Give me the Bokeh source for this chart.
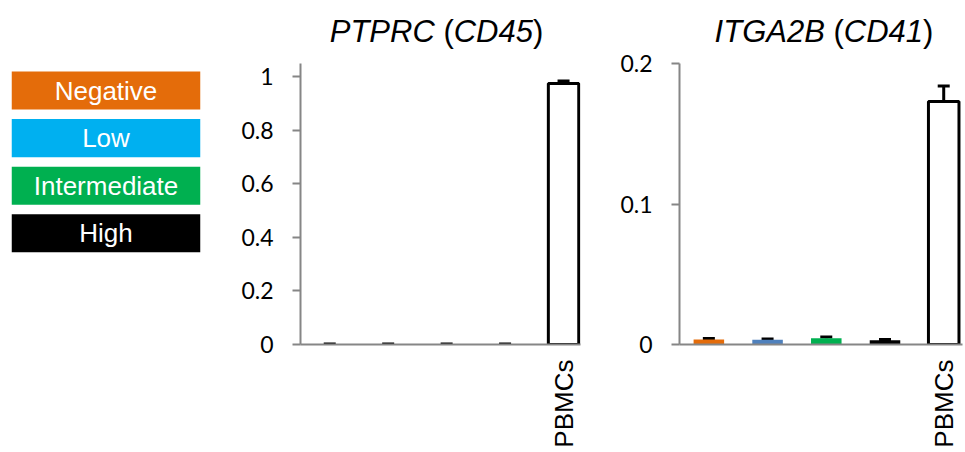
import math
from bokeh.plotting import figure
from bokeh.models import (ColumnDataSource, Range1d, FixedTicker, NumeralTickFormatter,
                          Whisker, TeeHead)
from bokeh.layouts import row
from bokeh.embed import file_html
from bokeh.resources import INLINE
from bokeh.core.properties import value

# ---------------- data ----------------
groups = ["Negative", "Low", "Intermediate", "High", "PBMCs"]
x_tick_labels = ["", "", "", "", "PBMCs"]
legend_labels = ["Negative", "Low", "Intermediate", "High"]
legend_colors = ["#E46C0A", "#00B0F0", "#00B050", "#000000"]
bar_fill = ["#E46C0A", "#4F81BD", "#00B050", "#000000", "#FFFFFF"]
bar_outline_alpha = [0, 0, 0, 0, 1]

ptprc_mean = [0.001, 0.001, 0.001, 0.001, 0.975]
ptprc_err = [0.0005, 0.0005, 0.0005, 0.0005, 0.010]
itga2b_mean = [0.0035, 0.0033, 0.0045, 0.0030, 0.173]
itga2b_err = [0.0007, 0.0006, 0.0008, 0.0006, 0.011]

ptprc_ticks = [0, 0.2, 0.4, 0.6, 0.8, 1.0]
itga2b_ticks = [0, 0.1, 0.2]

ptprc_title = [("PTPRC", "italic"), (" ", "normal"), ("(", "normal"), ("CD45", "italic"), (")", "normal")]
itga2b_title = [("ITGA2B", "italic"), (" ", "normal"), ("(", "normal"), ("CD41", "italic"), (")", "normal")]

# ---------------- styling / layout constants ----------------
ARIAL_W = {"P": .667, "T": .611, "R": .722, "C": .722, "I": .278, "G": .778, "A": .667,
           "B": .667, "D": .722, "4": .556, "5": .556, "1": .556, "2": .556,
           " ": .278, "(": .333, ")": .333}
TITLE_FS = 31
SANS = "Liberation Sans"
TICK_FONT = "Lato"
FIG_H = 450
FRAME_BOTTOM = 344     # px from canvas top
AXIS_TOP = 63          # px from canvas top where the value axis ends
TITLE_BASE = 31        # px from canvas top (title baseline)


def text_w(s, fs):
    return sum(ARIAL_W.get(c, 0.556) for c in s) * fs


def new_fig(width, left, right, x_range, y_range, **kw):
    p = figure(width=width, height=FIG_H, output_backend="svg", toolbar_location=None,
               x_range=x_range, y_range=y_range,
               min_border_left=left, min_border_right=right,
               min_border_top=0, min_border_bottom=FIG_H - FRAME_BOTTOM, **kw)
    p.outline_line_color = None
    p.grid.grid_line_color = None
    return p


def add_title(p, parts, x_center, y_base, dx):
    total = sum(text_w(t, TITLE_FS) for t, _ in parts)
    off = dx - total / 2
    for t, style in parts:
        if t.strip():
            p.text(x=[x_center], y=[y_base], text=[t], x_offset=off,
                   text_font=value(SANS), text_font_size=f"{TITLE_FS}px",
                   text_font_style=style, text_color="black",
                   text_align="left", text_baseline="alphabetic")
        off += text_w(t, TITLE_FS)


def bar_panel(width, border_left, border_right, xmax, axis_max, means, errs, ticks, title, title_dx):
    y_end = axis_max * FRAME_BOTTOM / (FRAME_BOTTOM - AXIS_TOP)
    p = new_fig(width, border_left, border_right, Range1d(-0.5, xmax), Range1d(0, y_end))
    xs = list(range(len(groups)))
    src = ColumnDataSource(dict(x=xs, top=means, upper=[m + e for m, e in zip(means, errs)],
                                fill=bar_fill, la=bar_outline_alpha))
    p.vbar(x="x", top="top", width=0.52, source=src, fill_color="fill",
           line_color="black", line_alpha="la", line_width=3)
    p.add_layout(Whisker(source=src, base="x", upper="upper", lower="top", dimension="height",
                         line_color="black", line_width=3,
                         upper_head=TeeHead(size=12, line_color="black", line_width=3),
                         lower_head=None))
    # y axis
    ya = p.yaxis[0]
    ya.bounds = (0, axis_max)
    ya.ticker = FixedTicker(ticks=ticks)
    ya.formatter = NumeralTickFormatter(format="0.[0]")
    ya.axis_line_color = "#868686"
    ya.axis_line_width = 2
    ya.major_tick_line_color = "#868686"
    ya.major_tick_line_width = 2
    ya.major_tick_in = 0
    ya.major_tick_out = 8
    ya.minor_tick_line_color = None
    ya.major_label_text_font = TICK_FONT
    ya.major_label_text_font_size = "23px"
    ya.major_label_text_color = "black"
    ya.major_label_standoff = 19
    # x axis
    xa = p.xaxis[0]
    xa.ticker = FixedTicker(ticks=xs)
    xa.major_label_overrides = {i: lab for i, lab in zip(xs, x_tick_labels)}
    xa.major_label_orientation = math.pi / 2
    xa.axis_line_color = "#868686"
    xa.axis_line_width = 2
    xa.major_tick_line_color = None
    xa.major_tick_in = 0
    xa.major_tick_out = 0
    xa.minor_tick_line_color = None
    xa.major_label_text_font = SANS
    xa.major_label_text_font_size = "26px"
    xa.major_label_text_color = "black"
    xa.major_label_standoff = 15
    # title (mixed italic / upright pieces)
    x_mid = (-0.5 + xmax) / 2
    y_title = y_end * (FRAME_BOTTOM - TITLE_BASE) / FRAME_BOTTOM
    add_title(p, title, x_mid, y_title, title_dx)
    return p


# ---------------- legend panel ----------------
n_leg = len(legend_labels)
band = 47.6
first_center = 90
leg = new_fig(238, 11, 38, Range1d(0, 1),
              Range1d((FRAME_BOTTOM - first_center) / band, -first_center / band),
              x_axis_location=None, y_axis_location=None)
lsrc = ColumnDataSource(dict(label=legend_labels, color=legend_colors,
                             yc=list(range(n_leg)), xc=[0.5] * n_leg))
leg.rect(x="xc", y="yc", width=1, height=0.8, fill_color="color", line_color=None, source=lsrc)
leg.text(x="xc", y="yc", text="label", source=lsrc, text_color="white",
         text_font=value(SANS), text_font_size="26px", text_align="center",
         text_baseline="middle")

p1 = bar_panel(372, 61, 30, 4.29, 1.05, ptprc_mean, ptprc_err, ptprc_ticks, ptprc_title, -4)
p2 = bar_panel(353, 69, 1, 4.32, 0.2, itga2b_mean, itga2b_err, itga2b_ticks, itga2b_title, 3)

layout = row(leg, p1, p2)
open("out.html", "w").write(file_html(layout, INLINE))
